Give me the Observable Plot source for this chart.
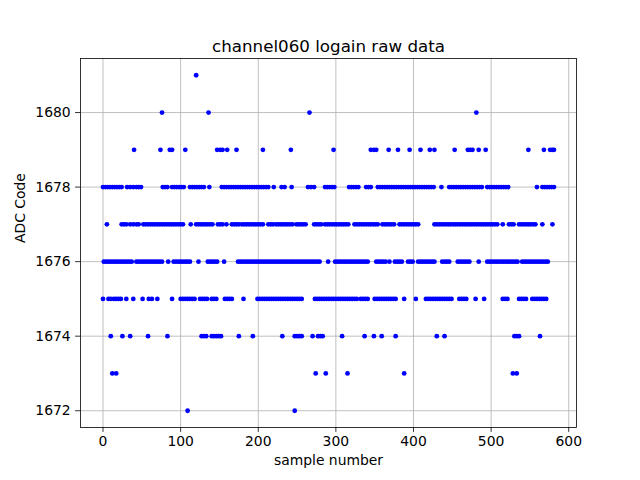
<!DOCTYPE html>
<html>
<head>
<meta charset="utf-8">
<script src="https://cdn.jsdelivr.net/npm/d3@7"></script>
<script src="https://cdn.jsdelivr.net/npm/@observablehq/plot@0.6"></script>
<style>
  html, body { margin: 0; padding: 0; background: #fff; }
</style>
</head>
<body>
<div id="chart"></div>
<script>
// Sample indices at which each ADC code appears
const s1681 = [120];
const s1680 = [76, 136, 266, 481];
const s1679 = [40, 74, 86, 89, 106, 147, 151, 154, 160, 172, 206, 242, 297, 345, 349, 352, 368, 380, 395, 409, 421, 427, 453, 470, 473, 476, 484, 493, 548, 568, 576, 579, 581];
const s1678 = [0,3,6,9,12,15,18,21,24,
  31,35,39,43,46,49,
  77,80,83,
  89,92,95,98,101,104,
  112,115,118,121,124,127,130,
  137,
  153,156,159,162,165,168,171,174,177,180,183,186,189,192,195,198,201,204,207,210,213,
  220,230,234,243,
  264,268,272,
  286,289,292,295,298,
  317,320,323,326,329,
  339,342,345,
  354,357,360,363,366,369,372,375,378,381,384,387,390,393,396,399,402,405,408,411,414,417,420,423,426,
  436,
  446,449,452,455,458,461,464,467,470,473,476,479,482,485,488,
  495,498,501,504,507,510,513,516,519,522,
  559,566,569,572,575,578,581];
const s1677 = [5,
  24,27,30,35,39,43,46,
  52,55,58,61,64,67,70,73,76,79,82,85,88,91,94,97,100,103,
  113,
  120,123,126,129,132,135,138,141,
  148,151,154,159,
  166,169,172,175,
  179,182,185,188,191,194,197,200,203,206,
  213,216,219,
  223,226,229,232,235,238,241,244,
  249,252,255,258,261,
  272,275,278,281,
  286,289,292,295,298,301,304,307,310,313,316,
  324,327,330,333,336,339,342,345,348,351,354,
  360,363,366,369,372,375,
  382,385,388,391,394,397,400,403,406,
  427,430,433,436,439,442,445,448,451,454,457,460,463,466,469,472,475,478,481,484,487,490,493,496,499,502,505,508,
  515,523,526,529,
  536,539,542,545,548,551,554,557,
  566,579];
const s1676 = [1,4,7,10,13,16,19,22,25,28,31,34,37,
  43,46,49,52,55,58,61,64,67,70,73,76,
  84,
  91,94,97,100,103,106,109,112,
  123,
  135,138,141,144,147,
  156,
  174,177,180,183,186,189,192,195,198,201,204,207,210,213,216,219,222,225,228,231,234,237,240,243,246,249,252,255,258,261,264,267,270,273,276,279,
  290,
  299,302,305,308,311,314,317,320,323,326,329,332,335,338,341,
  352,355,358,361,364,369,
  376,379,382,385,
  393,396,399,
  406,409,412,415,418,421,424,427,
  437,440,443,446,
  457,460,463,466,469,472,
  484,
  495,498,501,504,507,510,513,516,519,522,
  525,528,531,534,
  540,543,546,549,552,555,558,561,564,567,570,573];
const s1675 = [0,7,10,
  14,17,20,23,
  30,39,51,59,63,70,89,
  100,103,106,109,112,115,118,
  125,128,131,134,
  140,143,146,
  157,160,163,166,
  181,
  199,202,205,208,211,214,217,220,223,226,229,232,235,238,241,244,247,250,253,256,
  273,276,279,282,285,288,291,294,297,300,303,306,309,312,315,318,321,324,327,
  332,335,338,341,
  350,353,356,359,362,365,368,371,374,377,
  388,403,
  416,419,422,425,428,431,434,437,440,443,446,449,
  459,462,465,468,
  480,491,
  515,518,521,
  536,539,542,545,
  553,556,559,562,565,568,571];
const s1674 = [10,25,35,58,83,
  127,130,133,
  140,143,146,149,152,
  175,193,
  231,247,250,253,256,270,277,280,283,308,
  337,349,359,377,
  430,440,
  530,533,536,
  563];
const s1673 = [12,17,274,287,315,388,528,533];
const s1672 = [109,247];

const xTicks = [0, 100, 200, 300, 400, 500, 600];
const yTicks = [1672, 1674, 1676, 1678, 1680];
const title = "channel060 logain raw data";
const xLabel = "sample number";
const yLabel = "ADC Code";

const levels = [
  [1681, s1681], [1680, s1680], [1679, s1679], [1678, s1678], [1677, s1677],
  [1676, s1676], [1675, s1675], [1674, s1674], [1673, s1673], [1672, s1672]
];
const data = [];
for (const [v, idx] of levels) for (const i of idx) data.push({i, v});

const font = "DejaVu Sans, sans-serif";
const chart = Plot.plot({
  width: 640,
  height: 480,
  marginLeft: 80,
  marginRight: 64,
  marginTop: 58,
  marginBottom: 53,
  style: {fontFamily: font, fontSize: "13.9px", color: "black", background: "white"},
  x: {domain: [-29, 610], ticks: xTicks, label: null},
  y: {domain: [1671.55, 1681.45], ticks: yTicks, label: null},
  marks: [
    Plot.gridX(xTicks, {stroke: "#b0b0b0", strokeOpacity: 1, strokeWidth: 0.8}),
    Plot.gridY(yTicks, {stroke: "#b0b0b0", strokeOpacity: 1, strokeWidth: 0.8}),
    Plot.axisX(xTicks, {tickSize: 4.9, tickPadding: 4, label: null, tickFormat: d => String(d), strokeWidth: 0.8}),
    Plot.axisY(yTicks, {tickSize: 4.9, tickPadding: 4.9, label: null, tickFormat: d => String(d), strokeWidth: 0.8}),
    Plot.dot(data, {x: "i", y: "v", r: 2.4, fill: "blue", stroke: "none"}),
    Plot.frame({stroke: "black", strokeWidth: 0.8}),
    Plot.text([title], {frameAnchor: "top", dy: -18, fontSize: 16.7, fill: "black"}),
    Plot.text([xLabel], {frameAnchor: "bottom", dy: 37, fontSize: 13.9, fill: "black"}),
    Plot.text([yLabel], {frameAnchor: "left", dx: -60, rotate: -90, fontSize: 13.9, fill: "black"})
  ]
});
document.getElementById("chart").appendChild(chart);
</script>
</body>
</html>
